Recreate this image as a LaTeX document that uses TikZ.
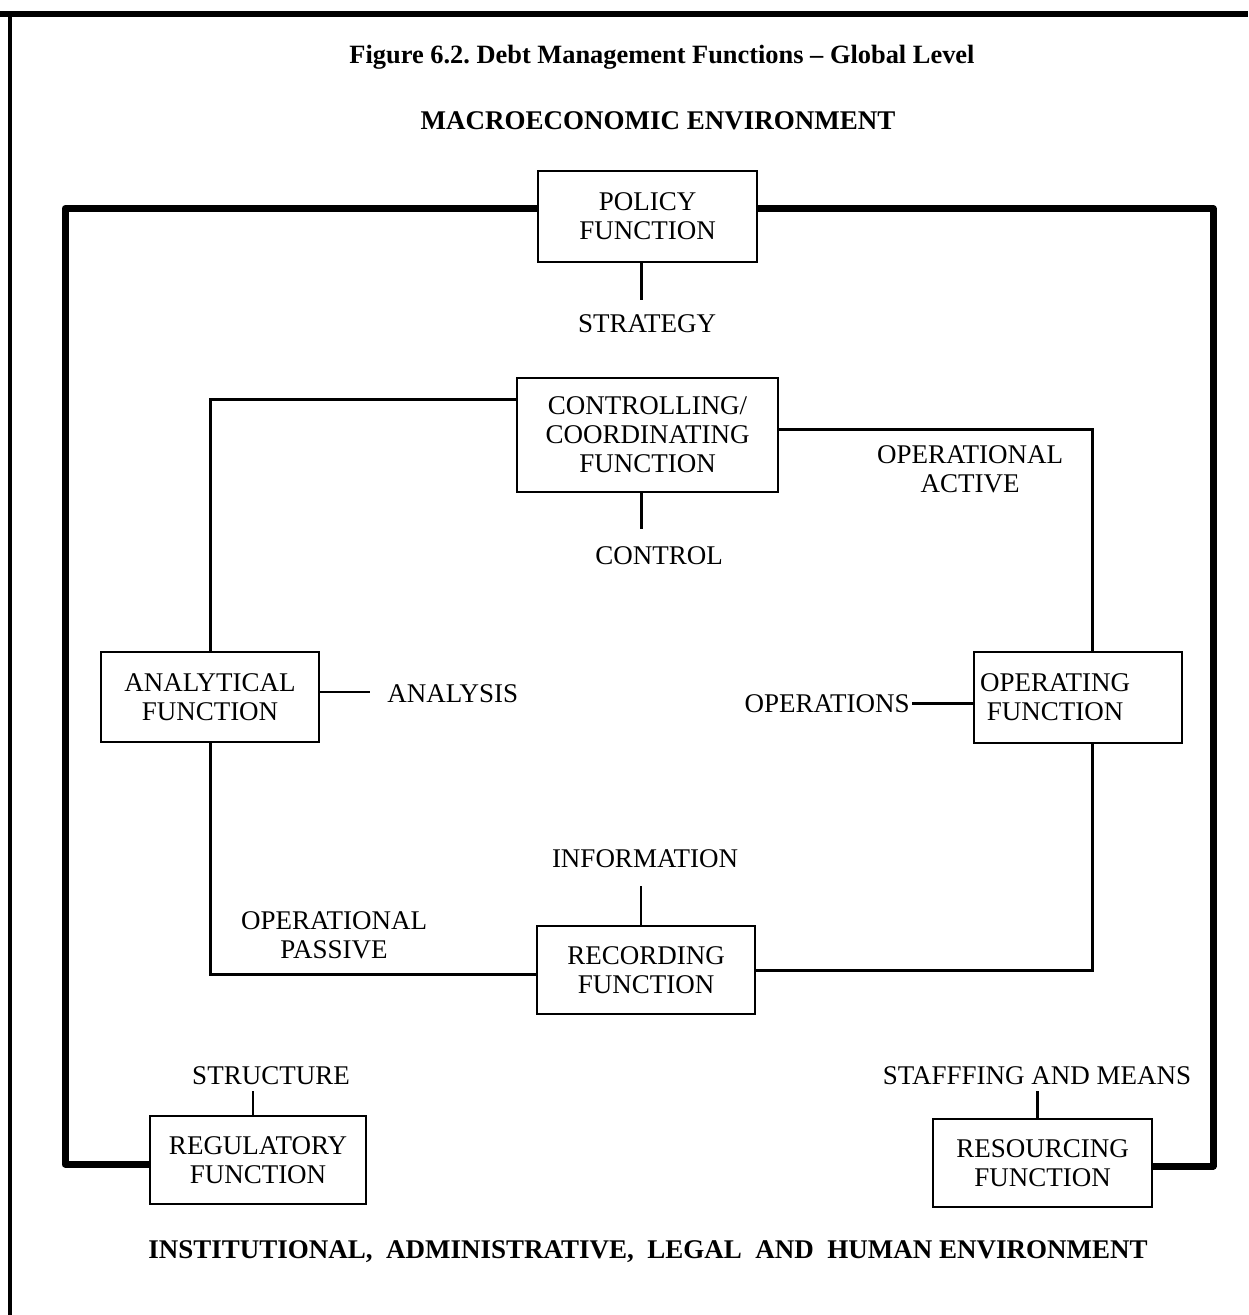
\documentclass[tikz,border=0pt]{standalone}
\usepackage{fontspec}
\setmainfont{Liberation Serif}
\frenchspacing
\begin{document}
\begin{tikzpicture}[x=0.5pt,y=-0.5pt,
  fbox/.style={draw, line width=1.3pt, align=center, inner sep=0pt,
    font=\fontsize{13.5}{14.5}\selectfont},
  lbl/.style={inner sep=0pt, align=center, font=\fontsize{13.5}{14.5}\selectfont},
  head/.style={inner sep=0pt, font=\fontsize{13.5}{15}\selectfont\bfseries},
  thickline/.style={line width=3.5pt, line join=round},
  thinline/.style={line width=1.5pt},
  stub/.style={line width=1.3pt}]
  \useasboundingbox (0,0) rectangle (1248,1315);

  % Frame
  \draw[line width=3pt] (0,14) -- (1248,14);
  \draw[line width=2pt] (10,14) -- (10,1315);

  % Headings
  \node[head, font=\fontsize{13.2}{15}\selectfont\bfseries] (title) at (662,57) {Figure 6.2. Debt Management Functions -- Global Level};
  \node[head] (macro) at (658,121) {MACROECONOMIC ENVIRONMENT};
  \node[head] (inst) at (648,1252) {INSTITUTIONAL,\ \ ADMINISTRATIVE,\ \ LEGAL\ \ AND\ \ HUMAN ENVIRONMENT};

  % Function boxes
  \node[fbox, minimum width=109.5pt, minimum height=45.5pt] (policy) at (647.5,216.5) {POLICY\\FUNCTION};
  \node[fbox, minimum width=130.5pt, minimum height=57pt] (ctrl) at (647.5,435) {CONTROLLING/\\COORDINATING\\FUNCTION};
  \node[fbox, minimum width=109pt, minimum height=45pt] (anal) at (210,697) {ANALYTICAL\\FUNCTION};
  \node[fbox, minimum width=104pt, minimum height=45.5pt] (oper) at (1078,697.5)
    {OPERATING\hspace*{23pt}\\FUNCTION\hspace*{23pt}};
  \node[fbox, minimum width=109pt, minimum height=44pt] (rec) at (646,970) {RECORDING\\FUNCTION};
  \node[fbox, minimum width=108pt, minimum height=44pt] (reg) at (258,1160) {REGULATORY\\FUNCTION};
  \node[fbox, minimum width=109.5pt, minimum height=44pt] (res) at (1042.5,1163) {RESOURCING\\FUNCTION};

  % Labels
  \node[lbl] (strategy) at (647,324) {STRATEGY};
  \node[lbl] (control) at (659,556) {CONTROL};
  \node[lbl, anchor=west] (analysis) at (387,694) {ANALYSIS};
  \node[lbl, anchor=east] (operations) at (910,704) {OPERATIONS};
  \node[lbl] (info) at (645,859) {INFORMATION};
  \node[lbl] (opactive) at (970,469) {OPERATIONAL\\ACTIVE};
  \node[lbl] (oppassive) at (334,935) {OPERATIONAL\\PASSIVE};
  \node[lbl] (structure) at (271,1076) {STRUCTURE};
  \node[lbl] (staffing) at (1037,1076) {STAFFFING AND MEANS};

  % Outer loop
  \coordinate (sw) at (65,1164);
  \coordinate (se) at (1213,1166);
  \draw[thickline] ([yshift=4pt]policy.west) -| (sw) -- ([yshift=-2pt]reg.west);
  \draw[thickline] ([yshift=4pt]policy.east) -| (se) -- ([yshift=-1.5pt]res.east);

  % Inner loop
  \draw[thinline] ([yshift=17.5pt]ctrl.west) -| (anal.north);
  \draw[thinline] ([yshift=2.5pt]ctrl.east) -| ([xshift=7pt]oper.north);
  \draw[thinline] (anal.south) |- ([yshift=-2pt]rec.west);
  \draw[thinline] ([xshift=7pt]oper.south) |- (rec.east);

  % Stubs
  \draw[stub, shorten >=7.5pt] ([xshift=-3pt]policy.south) -- ([xshift=-3pt]policy.south |- strategy.north);
  \draw[stub, shorten >=8.6pt] ([xshift=-3pt]ctrl.south) -- ([xshift=-3pt]ctrl.south |- control.north);
  \draw[stub, shorten >=9pt] ([xshift=-2.5pt]rec.north) -- ([xshift=-2.5pt]rec.north |- info.south);
  \draw[stub, shorten >=2.6pt] ([xshift=-2.5pt]reg.north) -- ([xshift=-2.5pt]reg.north |- structure.south);
  \draw[stub, shorten >=2.6pt] ([xshift=-2.5pt]res.north) -- ([xshift=-2.5pt]res.north |- staffing.south);
  \draw[stub, shorten >=8.5pt] ([yshift=2.5pt]anal.east) -- ([yshift=2.5pt]anal.east -| analysis.west);
  \draw[stub, shorten >=1pt] ([yshift=-3pt]oper.west) -- ([yshift=-3pt]oper.west -| operations.east);
\end{tikzpicture}
\end{document}
